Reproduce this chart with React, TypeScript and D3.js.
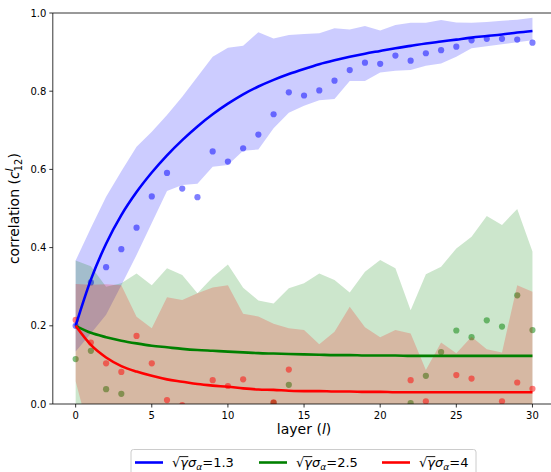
import React, { useEffect, useRef } from 'react';
import * as d3 from 'd3';

const layers = [0, 1, 2, 3, 4, 5, 6, 7, 8, 9, 10, 11, 12, 13, 14, 15, 16, 17, 18, 19, 20, 21, 22, 23, 24, 25, 26, 27, 28, 29, 30];

const blueLine = [0.2, 0.318, 0.41, 0.483, 0.542, 0.592, 0.636, 0.675, 0.71, 0.741, 0.768, 0.792, 0.812, 0.829, 0.844, 0.857, 0.869, 0.879, 0.888, 0.896, 0.903, 0.91, 0.916, 0.922, 0.927, 0.932, 0.937, 0.941, 0.945, 0.95, 0.954];
const greenLine = [0.2, 0.182, 0.171, 0.162, 0.155, 0.149, 0.145, 0.141, 0.138, 0.136, 0.134, 0.132, 0.13, 0.129, 0.128, 0.127, 0.126, 0.125, 0.125, 0.124, 0.124, 0.124, 0.123, 0.123, 0.123, 0.123, 0.123, 0.123, 0.123, 0.123, 0.123];
const redLine = [0.2, 0.151, 0.119, 0.097, 0.083, 0.072, 0.063, 0.057, 0.051, 0.047, 0.044, 0.04, 0.037, 0.036, 0.034, 0.033, 0.033, 0.032, 0.032, 0.031, 0.031, 0.03, 0.03, 0.03, 0.03, 0.03, 0.03, 0.03, 0.03, 0.03, 0.03];

const blueDots = [0.2, 0.311, 0.35, 0.396, 0.451, 0.531, 0.591, 0.551, 0.529, 0.646, 0.62, 0.654, 0.689, 0.741, 0.797, 0.789, 0.802, 0.827, 0.854, 0.873, 0.87, 0.891, 0.878, 0.897, 0.905, 0.914, 0.93, 0.934, 0.934, 0.932, 0.924];
const greenDots = [0.115, 0.136, 0.038, 0.026, -0.08, -0.12, -0.06, -0.1, -0.07, -0.15, -0.09, -0.11, -0.06, 0.003, 0.049, -0.1, -0.13, -0.07, -0.09, -0.12, -0.08, -0.06, 0.002, 0.072, 0.133, 0.188, 0.171, 0.214, 0.198, 0.278, 0.189];
const redDots = [0.215, 0.157, 0.104, 0.082, 0.174, 0.104, 0.01, -0.003, -0.06, 0.061, 0.046, 0.063, -0.05, 0.004, 0.088, -0.07, -0.05, -0.09, -0.06, -0.08, -0.05, -0.07, 0.061, 0.007, -0.06, 0.074, 0.065, -0.05, 0.007, 0.055, 0.039];

const blueUpper = [0.367, 0.45, 0.53, 0.595, 0.658, 0.696, 0.739, 0.786, 0.837, 0.888, 0.911, 0.916, 0.951, 0.935, 0.944, 0.946, 0.948, 0.961, 0.958, 0.967, 0.955, 0.969, 0.975, 0.975, 0.982, 0.976, 0.975, 0.977, 0.98, 0.983, 0.988];
const blueLower = [0.134, 0.18, 0.228, 0.304, 0.381, 0.463, 0.545, 0.56, 0.563, 0.607, 0.611, 0.648, 0.651, 0.705, 0.745, 0.763, 0.777, 0.78, 0.826, 0.826, 0.848, 0.852, 0.854, 0.865, 0.871, 0.888, 0.91, 0.915, 0.92, 0.925, 0.93];
const greenUpper = [0.367, 0.352, 0.3, 0.309, 0.334, 0.304, 0.347, 0.33, 0.283, 0.324, 0.357, 0.297, 0.265, 0.257, 0.296, 0.309, 0.334, 0.317, 0.285, 0.338, 0.368, 0.347, 0.24, 0.332, 0.351, 0.398, 0.428, 0.481, 0.458, 0.499, 0.39];
const greenLower = [-0.02, -0.1, -0.12, -0.14, -0.1, -0.13, -0.09, -0.11, -0.15, -0.12, -0.1, -0.13, -0.14, -0.12, -0.11, -0.1, -0.13, -0.12, -0.15, -0.11, -0.1, -0.12, -0.16, -0.13, -0.12, -0.1, -0.09, -0.08, -0.1, -0.07, -0.09];
const redUpper = [0.307, 0.305, 0.306, 0.304, 0.223, 0.194, 0.273, 0.266, 0.283, 0.298, 0.304, 0.231, 0.224, 0.205, 0.194, 0.189, 0.153, 0.185, 0.249, 0.196, 0.171, 0.189, 0.18, 0.087, 0.157, 0.13, 0.172, 0.14, 0.132, 0.304, 0.287];
const redLower = [0.058, -0.09, -0.1, -0.12, -0.11, -0.1, -0.12, -0.13, -0.1, -0.11, -0.12, -0.1, -0.11, -0.13, -0.1, -0.12, -0.11, -0.1, -0.13, -0.12, -0.1, -0.11, -0.12, -0.1, -0.11, -0.12, -0.1, -0.11, -0.12, -0.1, -0.11];

const xTicks = [0, 5, 10, 15, 20, 25, 30];
const yTicks = [0.0, 0.2, 0.4, 0.6, 0.8, 1.0];
const legendValues = ['1.3', '2.5', '4'];

const FONT = 'DejaVu Sans';
const PL = 52.8, PR = 555.3, PT = 13, PB = 404;

export default function App() {
  const ref = useRef<SVGSVGElement>(null);

  useEffect(() => {
    const svg = d3.select(ref.current);
    svg.selectAll('*').remove();
    const x = d3.scaleLinear().domain([-1.5, 31.5]).range([PL, PR]);
    const y = d3.scaleLinear().domain([0, 1]).range([PB, PT]);

    svg.append('defs').append('clipPath').attr('id', 'plotclip')
      .append('rect').attr('x', PL).attr('y', PT).attr('width', PR - PL).attr('height', PB - PT);

    const plot = svg.append('g').attr('clip-path', 'url(#plotclip)');

    const series = [
      { color: '#0000ff', line: blueLine, dots: blueDots, up: blueUpper, lo: blueLower },
      { color: '#008000', line: greenLine, dots: greenDots, up: greenUpper, lo: greenLower },
      { color: '#ff0000', line: redLine, dots: redDots, up: redUpper, lo: redLower },
    ];

    series.forEach((s) => {
      const area = d3.area<number>()
        .x((_, i) => x(layers[i]))
        .y0((_, i) => y(s.lo[i]))
        .y1((d) => y(d));
      plot.append('path').datum(s.up).attr('d', area).attr('fill', s.color).attr('fill-opacity', 0.2).attr('stroke', 'none');
      plot.append('g').selectAll('circle').data(s.dots).join('circle')
        .attr('cx', (_, i) => x(layers[i]))
        .attr('cy', (d) => y(d))
        .attr('r', 3.1)
        .attr('fill', s.color)
        .attr('fill-opacity', 0.5);
    });

    const line = d3.line<number>().x((_, i) => x(layers[i])).y((d) => y(d)).curve(d3.curveMonotoneX);
    series.forEach((s) => {
      plot.append('path').datum(s.line).attr('d', line).attr('fill', 'none').attr('stroke', s.color).attr('stroke-width', 2.6);
    });

    // spines
    const sp = svg.append('g').attr('stroke', '#000').attr('stroke-width', 0.8);
    sp.append('line').attr('x1', PL).attr('x2', PL).attr('y1', PT).attr('y2', PB);
    sp.append('line').attr('x1', PL).attr('x2', PR).attr('y1', PB).attr('y2', PB);
    sp.append('line').attr('x1', PL).attr('x2', PR).attr('y1', PT).attr('y2', PT);
    sp.append('line').attr('x1', PR).attr('x2', PR).attr('y1', PT).attr('y2', PB);

    // x axis
    const xa = svg.append('g');
    xTicks.forEach((t) => {
      xa.append('line').attr('x1', x(t)).attr('x2', x(t)).attr('y1', PB).attr('y2', PB + 3.5).attr('stroke', '#000').attr('stroke-width', 0.8);
      xa.append('text').attr('x', x(t)).attr('y', PB + 15).attr('text-anchor', 'middle')
        .attr('font-family', FONT).attr('font-size', 10).text(String(t));
    });
    const ya = svg.append('g');
    yTicks.forEach((t) => {
      ya.append('line').attr('x1', PL - 3.5).attr('x2', PL).attr('y1', y(t)).attr('y2', y(t)).attr('stroke', '#000').attr('stroke-width', 0.8);
      ya.append('text').attr('x', PL - 6.5).attr('y', y(t) + 3.6).attr('text-anchor', 'end')
        .attr('font-family', FONT).attr('font-size', 10).text(d3.format('.1f')(t));
    });

    // x label
    const xl = svg.append('text').attr('x', (PL + PR) / 2).attr('y', 434).attr('text-anchor', 'middle')
      .attr('font-family', FONT).attr('font-size', 14);
    xl.append('tspan').text('layer (');
    xl.append('tspan').text('l').attr('font-style', 'italic');
    xl.append('tspan').text(')');

    // y label
    const fs = 14;
    const yl = svg.append('text').attr('font-family', FONT).attr('font-size', fs)
      .attr('transform', `translate(18.5, ${(PT + PB) / 2}) rotate(-90)`).attr('text-anchor', 'middle');
    yl.append('tspan').text('correlation (');
    yl.append('tspan').text('c').attr('font-style', 'italic');
    yl.append('tspan').text('12').attr('font-size', fs * 0.7).attr('dy', fs * 0.25);
    const sup = yl.append('tspan').text('l').attr('font-size', fs * 0.7).attr('font-style', 'italic');
    const close = yl.append('tspan').text(')');
    const yn = yl.node() as SVGTextElement;
    const w12 = yn.getSubStringLength(14, 2);
    const wl = yn.getSubStringLength(16, 1);
    sup.attr('dx', -w12).attr('dy', -fs * 0.25 - fs * 0.42);
    close.attr('dx', w12 - wl + 0.5).attr('dy', fs * 0.42);

    // legend
    const lg = svg.append('g');
    lg.append('rect').attr('x', 131).attr('y', 449.5).attr('width', 345).attr('height', 40).attr('rx', 2.5)
      .attr('fill', '#fff').attr('fill-opacity', 0.8).attr('stroke', '#cccccc').attr('stroke-width', 1);
    const entries = [
      { x1: 135, color: '#0000ff' },
      { x1: 259, color: '#008000' },
      { x1: 382, color: '#ff0000' },
    ];
    const lfs = 13;
    entries.forEach((e, i) => {
      lg.append('line').attr('x1', e.x1).attr('x2', e.x1 + 28).attr('y1', 462.5).attr('y2', 462.5)
        .attr('stroke', e.color).attr('stroke-width', 2.6);
      const tx = e.x1 + 37;
      const ty = 467;
      const t = lg.append('text').attr('x', tx).attr('y', ty).attr('font-family', FONT).attr('font-size', lfs);
      t.append('tspan').text('√');
      t.append('tspan').text('γ').attr('font-style', 'italic');
      t.append('tspan').text('σ').attr('font-style', 'italic');
      t.append('tspan').text('α').attr('font-style', 'italic').attr('font-size', lfs * 0.7).attr('dy', lfs * 0.22);
      t.append('tspan').text('=' + legendValues[i]).attr('dy', -lfs * 0.22);
      const n = t.node() as SVGTextElement;
      const w0 = n.getSubStringLength(0, 1);
      const w1 = n.getSubStringLength(1, 1);
      lg.append('line').attr('x1', tx + w0 - 0.8).attr('x2', tx + w0 + w1 + 0.3)
        .attr('y1', ty - lfs * 0.8).attr('y2', ty - lfs * 0.8).attr('stroke', '#000').attr('stroke-width', 0.9);
    });
  }, []);

  return (
    <svg ref={ref} width={551} height={472} style={{ position: 'absolute', left: 0, top: 0, background: '#fff' }} />
  );
}
